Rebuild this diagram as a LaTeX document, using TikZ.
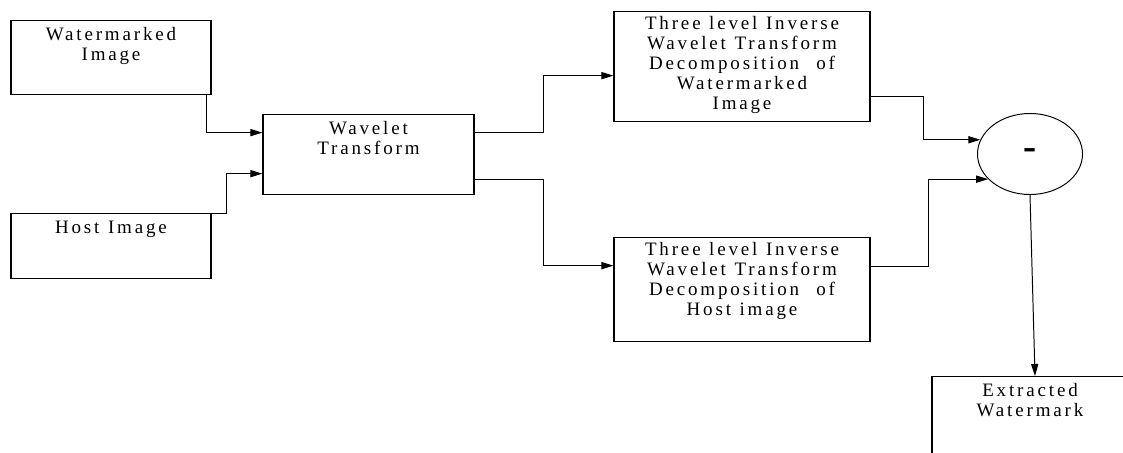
\documentclass[tikz,border=0pt]{standalone}
\usepackage{fontspec}
\setmainfont{Liberation Serif}[LetterSpace=15]
\usetikzlibrary{arrows.meta,shapes.geometric}

\begin{document}
\begin{tikzpicture}[x=0.025cm, y=-0.025cm]
            \tikzstyle{box} = [draw, line width=0.9pt, anchor=north, inner sep=0pt, text height=0.5cm, align=center, font=\fontsize{13.5}{14.2}\selectfont, execute at begin node={\spaceskip=0.45em\relax}]
            \tikzstyle{arrow} = [-{Triangle[length=0.3cm,width=0.18cm]}, line width=0.7pt]
            \useasboundingbox (0,0) rectangle (1123,453);
            \clip (0,0) rectangle (1123,453);
            
            % Inputs
            \node[box, text width=5cm, text depth=1.35cm] (wm) at (111,20) {Watermarked\\Image};
            \node[box, text width=5cm, text depth=1.125cm] (host) at (111,213) {Host Image};
            \node[box, text width=5.275cm, text depth=1.5cm] (wt) at (368.5,114) {Wavelet\\Transform};
            \draw[arrow] ([xshift=-0.125cm]wm.south east) |- ([yshift=0.55cm]wt.west);
            \draw[arrow] (host.north east) -- ++(15,0) |- ([yshift=-0.475cm]wt.west);
            
            % Inverse transforms
            \node[box, text width=6.4cm, text height=0.44cm, text depth=2.31cm] (invwm) at (742,11) {Three level Inverse\\Wavelet Transform\\Decomposition\ \ of\\Watermarked\\Image};
            \node[box, text width=6.4cm, text height=0.44cm, text depth=2.16cm] (invhost) at (742,237) {Three level Inverse\\Wavelet Transform\\Decomposition\ \ of\\Host image};
            \draw[arrow] ([yshift=0.55cm]wt.east) -- ++(69,0) |- ([yshift=-0.225cm]invwm.west);
            \draw[arrow] ([yshift=-0.625cm]wt.east) -- ++(69,0) |- ([yshift=0.6cm]invhost.west);
            
            % Difference and output
            \node[draw, ellipse, line width=0.7pt, minimum width=2.625cm, minimum height=2.025cm, inner sep=0pt, font=\bfseries\fontsize{28}{28}\selectfont] (diff) at (1030,154) {-};
            \node[box, text width=4.9cm, text depth=1.95cm] (ext) at (1030,376) {Extracted\\Watermark};
            \draw[arrow] ([yshift=-0.75cm]invwm.east) -- ++(53,0) |- (diff.164);
            \draw[arrow] ([yshift=0.575cm]invhost.east) -- ++(58,0) |- (diff.211);
            \draw[arrow] (diff.south) -- ([xshift=0.125cm]ext.north);
        \end{tikzpicture}
\end{document}
